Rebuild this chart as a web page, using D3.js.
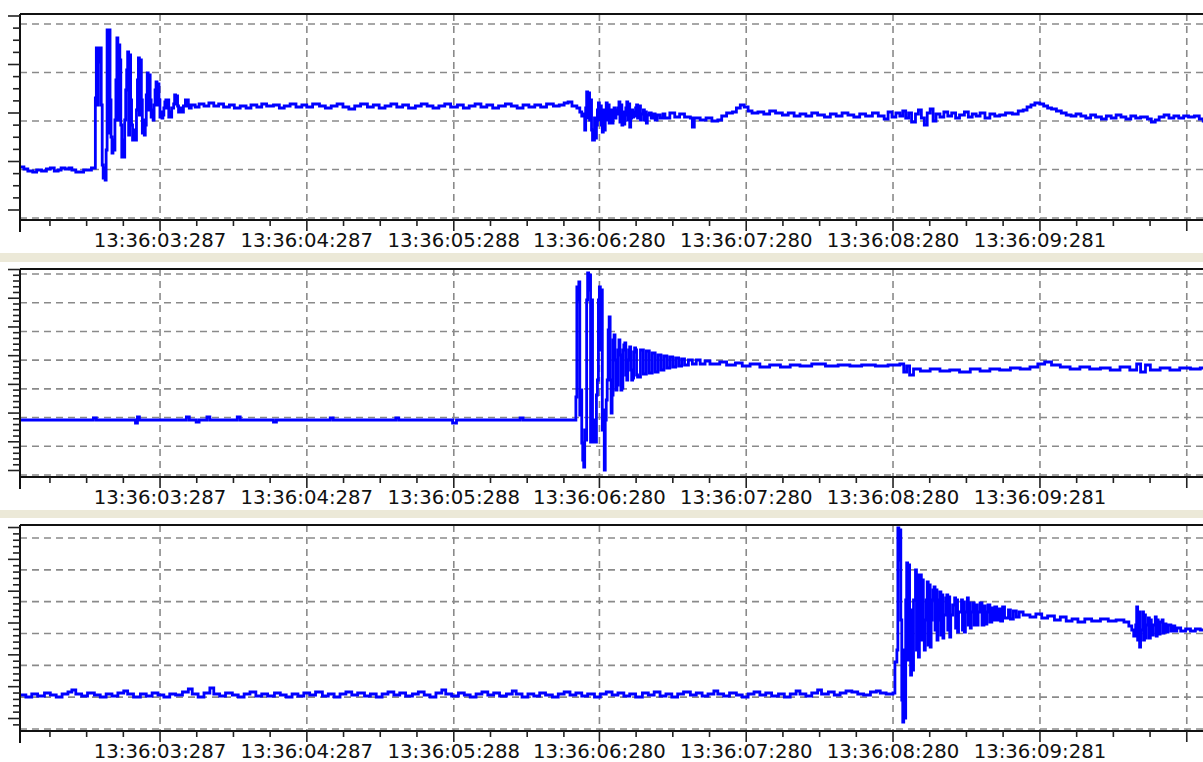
<!DOCTYPE html>
<html>
<head>
<meta charset="utf-8">
<script src="https://cdn.jsdelivr.net/npm/d3@7"></script>
<style>
  html, body { margin: 0; padding: 0; background: #fff; }
  svg { display: block; }
</style>
</head>
<body>
<svg id="chart" width="1203" height="762"></svg>
<script>
// Recorder channels, 150 samples per second, first sample at 13:36:02.333.
// Each entry is [sample index, amplitude]; the trace holds a value until the next entry.
const sampleRate = 150;
const startSecond = 2.333; // seconds after 13:36:00

const channel1 = [
  [0,51],[4,49],[8,47],[13,46],[17,48],[22,47],[27,49],[31,50],[35,47],[39,48],[42,50],[46,49],[50,50],[53,48],[57,46],[61,46],[65,48],[69,48],[73,50],
  [77,120],[78,170],[79,113],[80,170],[81,156],[82,170],[83,113],[84,53],[85,40],[86,50],[87,38],[88,68],[89,188],[90,85],[91,188],[92,118],[93,81],[94,65],[95,78],[96,68],[97,98],[98,138],[99,180],[100,98],[101,173],[102,158],[103,93],[104,61],[105,78],[106,61],[107,98],[108,128],[109,148],[110,166],[111,83],[112,163],[113,118],[114,93],[115,78],[116,88],[118,78],[119,108],[120,138],[121,160],[122,103],[123,158],[124,118],[125,85],[126,98],[127,83],[128,93],[129,123],[130,145],[131,108],[132,143],[133,118],[134,101],[135,108],[136,98],[137,113],[138,128],[139,136],[140,113],[141,134],[142,118],[143,101],[144,106],[145,100],[146,103],[147,110],[148,116],[149,118],[150,110],[151,118],[152,101],[153,106],[154,101],[155,110],[157,114],[158,123],[159,114],[160,122],[161,112],[162,106],[163,110],[165,106],[167,112],[169,118],[170,112],[171,118],[172,113],[173,110],[175,113],
  [179,111],[183,114],[188,112],[193,115],[198,112],[203,114],[208,111],[214,113],[219,110],[225,112],[231,110],[236,113],[242,111],[247,114],[252,112],[259,113],[265,110],[270,112],[276,114],[282,111],[288,113],[293,111],[299,114],[306,112],[312,110],[318,112],[324,114],[330,111],[336,109],[342,112],[348,114],[355,111],[361,113],[367,110],[373,112],[379,114],[385,111],[391,113],[397,110],[404,112],[410,114],[416,112],[422,110],[428,112],[434,114],[440,111],[447,113],[453,110],[459,112],[465,114],[471,111],[477,113],[483,110],[489,112],[496,114],[502,112],[508,110],[514,113],[520,111],[526,113],[532,111],[538,114],[545,112],[551,113],[556,115],[560,116],[564,112],[569,110],
  [572,106],[574,102],[576,104],[577,88],[578,110],[579,126],[580,100],[581,125],[582,98],[583,118],[584,88],[585,78],[587,100],[588,80],[589,93],[590,108],[591,115],[592,98],[593,112],[594,93],[595,86],[596,108],[597,88],[598,103],[599,115],[600,98],[601,113],[602,95],[603,103],[604,108],[605,95],[606,106],[607,110],[608,100],[609,108],[610,104],[611,110],[612,116],[613,96],[614,113],[615,93],[616,106],[617,94],[618,103],[619,110],[620,116],[621,98],[622,114],[623,91],[624,100],[625,108],[626,101],[627,106],[628,102],[629,110],[630,113],[631,100],[632,112],[634,98],[635,104],[637,108],[638,98],[639,106],[640,95],[641,103],[643,105],[645,100],[647,104],[649,98],[651,103],[654,100],[657,104],
  [659,100],[664,105],[669,101],[674,104],[679,101],[685,100],[687,91],[689,100],[695,98],[701,100],[707,97],[713,98],[717,102],[722,105],[728,106],[732,110],[736,113],[740,111],[744,107],[748,105],[754,106],[760,104],[766,107],[772,105],[779,103],
  [785,105],[791,102],[797,104],[803,102],[809,105],[815,103],[822,101],[828,104],[834,102],[840,105],[846,103],[852,101],[858,104],[864,102],[871,105],[877,102],[883,99],[887,106],[891,101],[895,105],[899,102],[902,107],[905,100],[908,105],[911,96],[915,104],[918,108],[921,100],[924,93],[927,105],[930,109],[933,97],[936,104],[940,101],[944,106],[948,102],[952,105],[956,100],[960,103],[965,106],[969,101],[973,104],[977,102],[981,105],[986,100],[991,104],[996,102],[1001,103],[1007,105],[1014,104],[1020,107],[1025,108],[1029,111],[1033,113],[1037,115],[1042,114],[1046,112],[1050,110],[1054,109],[1059,107],[1064,105],[1069,103],[1074,102],[1079,104],[1084,102],[1089,100],[1094,103],[1099,101],[1105,99],[1110,102],[1115,100],[1120,103],[1125,101],[1130,99],[1135,102],[1140,100],[1145,101],[1152,99],[1156,96],[1160,98],[1164,101],[1169,103],[1174,100],[1179,102],[1184,100],[1189,102],[1194,101],[1200,102],[1205,99],[1209,97],[1216,98]
];

const channel2 = [
  [0,55],[75,57],[78,55],[118,52],[120,58],[122,55],[170,58],[173,55],[180,53],[183,55],[191,58],[194,55],[222,58],[225,55],[259,53],[262,55],[317,57],[320,55],[384,57],[387,55],[442,52],[446,55],[511,57],[514,55],
  [568,78],[569,188],[570,175],[571,193],[572,60],[573,85],[574,32],[575,15],[576,8],[577,45],[578,35],[579,175],[580,202],[581,185],[582,200],[583,33],[584,175],[585,33],[587,55],[588,33],[589,80],[590,95],[591,175],[592,188],[593,125],[594,185],[595,45],[596,65],[597,5],[598,55],[599,75],[600,95],[601,145],[602,158],[603,95],[604,62],[605,80],[606,135],[607,140],[608,115],[609,85],[610,90],[611,125],[612,135],[613,120],[614,85],[615,87],[616,125],[617,130],[618,132],[619,100],[620,95],[621,115],[622,125],[623,128],[624,105],[625,95],[626,97],[627,123],[628,127],[629,125],[630,100],[631,98],
  [634,125],[637,101],[640,124],[643,102],[646,122],[649,103],[652,120],[655,105],[658,119],[661,107],[664,118],[667,108],[670,117],[673,109],[676,116],[679,110],[683,115],[687,111],[691,115],[695,111],[700,114],[705,111],
  [715,113],[722,110],[731,112],[738,109],[746,111],[756,108],[766,110],[777,108],[787,110],[797,109],[809,111],[823,109],[836,110],[848,109],[860,110],[874,109],[887,110],[899,111],
  [903,103],[906,109],[909,100],[913,106],[920,104],[930,106],[940,104],[950,105],[960,103],[971,106],[981,104],[991,106],[1001,105],[1012,107],[1022,106],[1032,108],[1040,111],[1047,113],[1054,110],[1063,108],[1073,106],[1083,108],[1093,106],[1104,107],[1114,105],[1124,108],[1134,105],[1141,111],[1145,103],[1150,110],[1155,105],[1165,107],[1175,105],[1185,107],[1196,106],[1206,107],[1216,106]
];

const channel3 = [
  [0,34],[6,32],[12,35],[18,33],[25,36],[31,34],[37,32],[43,35],[49,37],[53,39],[57,35],[63,33],[69,36],[76,34],[82,32],[88,35],[94,33],[100,36],[106,38],[110,35],[116,32],[123,35],[129,33],[135,36],[141,34],[147,32],[153,35],[159,34],[166,37],[172,40],[176,35],[182,32],[188,36],[194,41],[198,35],[204,33],[210,36],[217,34],[223,32],[229,35],[235,37],[241,33],[247,35],[253,33],[260,36],[266,34],[272,32],[278,35],[284,33],
  [290,36],[296,34],[302,37],[309,33],[315,35],[321,32],[327,35],[333,37],[339,34],[345,36],[352,33],[358,35],[364,32],[370,35],[376,37],[382,34],[388,36],[394,33],[401,35],[407,37],[413,34],[419,32],[425,36],[431,39],[435,35],[441,33],[448,36],[454,34],[460,32],[466,35],[472,37],[478,34],[484,36],[490,33],[497,35],[503,38],[507,35],[513,32],[519,35],[525,33],[531,36],[537,34],[544,32],[550,35],[556,37],[562,34],[568,36],[574,33],[580,35],[587,32],
  [593,35],[599,37],[605,34],[611,36],[617,33],[623,35],[629,32],[636,36],[642,34],[648,37],[654,33],[660,35],[666,32],[672,35],[678,37],[685,34],[691,36],[697,33],[703,35],[709,38],[713,35],[719,33],[725,36],[732,34],[738,32],[744,35],[750,37],[756,34],[762,36],[768,33],[775,35],[781,32],[787,35],[793,38],[797,35],[803,33],[809,36],[815,39],[819,35],[826,37],[832,34],[838,36],[844,38],[850,37],[856,35],[862,34],[869,37],[875,38],[879,36],[885,35],[892,36],
  [894,67],[896,79],[897,201],[898,169],[899,199],[900,109],[901,29],[902,7],[903,79],[904,11],[905,129],[906,166],[907,69],[908,164],[909,89],[910,54],[911,119],[912,59],[913,129],[915,159],[916,79],[917,154],[918,72],[919,119],[920,154],[921,89],[922,149],[923,99],[924,79],[925,109],[926,129],[927,147],[928,84],[929,144],[930,82],[931,109],[932,129],[933,139],[934,142],[935,99],[936,139],[937,89],[938,109],[939,129],[940,137],[941,94],[942,134],[943,91],[944,114],[946,131],[947,134],[948,99],[949,132],[950,92],[951,114],[953,124],[955,131],[956,101],[957,129],[958,97],[959,117],
  [962,129],[963,99],[964,127],[965,97],[966,117],[968,131],[969,104],[970,126],[971,101],[972,117],[974,126],[975,104],[976,124],[978,104],[979,117],[981,126],[983,104],[985,123],[986,105],[988,117],[989,124],[991,107],[993,121],[995,109],[996,122],[998,109],[1000,120],[1002,108],[1004,122],[1006,111],[1010,119],[1012,110],[1015,118],[1018,112],[1021,117],
  [1025,114],[1032,112],[1038,115],[1044,111],[1050,113],[1057,109],[1063,112],[1069,108],[1075,110],[1081,107],[1088,110],[1095,108],[1104,110],[1112,108],[1120,109],[1128,107],
  [1133,103],[1136,99],[1138,93],[1140,104],[1141,122],[1142,89],[1143,117],[1144,82],[1145,99],[1147,117],[1148,89],[1149,114],[1150,91],[1151,104],[1153,111],[1154,91],[1155,109],[1156,94],[1158,104],[1160,112],[1161,93],[1162,109],[1163,95],[1165,107],[1167,109],[1168,96],[1169,105],[1171,97],[1173,104],[1176,98],[1178,103],[1180,98],[1182,101],[1186,98],[1191,100],[1196,98],[1201,100],[1206,99],[1216,98]
];

// Time gridlines (seconds after 13:36:00) and their labels
const tickSeconds = [3.287, 4.287, 5.288, 6.280, 7.280, 8.280, 9.281, 10.281];
const tickLabels = ["13:36:03:287", "13:36:04:287", "13:36:05:288", "13:36:06:280",
                    "13:36:07:280", "13:36:08:280", "13:36:09:281"];

// Amplitude gridlines for each channel
const grid1 = [0, 48.5, 97, 145.5, 194];
const grid2 = [0, 28.71, 57.43, 86.14, 114.86, 143.57, 172.29, 201];
const grid3 = [0, 31.83, 63.67, 95.5, 127.33, 159.17, 191];

// ---- layout -------------------------------------------------------------
const W = 1203, H = 762;
const left = 20, right = 1210;
const endSecond = startSecond + (right - left) / 146.8;

const panels = [
  { data: channel1, grid: grid1, top: 14,  axis: 220, yLow: 218, yHigh: 24,
    majorStart: 8,    minorStep: 12.125, minorPerMajor: 4 },
  { data: channel2, grid: grid2, top: 269, axis: 477, yLow: 475, yHigh: 274,
    majorStart: 4.5,  minorStep: 5.742,  minorPerMajor: 5 },
  { data: channel3, grid: grid3, top: 525, axis: 731, yLow: 729, yHigh: 538,
    majorStart: 10.5, minorStep: 6.366,  minorPerMajor: 5 }
];
const bands = [[253, 262], [510, 518]];

const svg = d3.select("#chart");
svg.append("rect").attr("width", W).attr("height", H).attr("fill", "#fff");

const x = d3.scaleLinear().domain([startSecond, endSecond]).range([left, right]);

// minor time ticks every quarter second around each gridline
const minorSeconds = [];
tickSeconds.forEach((t, i) => {
  for (let j = 1; j <= 3; j++) minorSeconds.push(t + j * 0.25);
  if (i === 0) for (let j = 1; j <= 4; j++) minorSeconds.push(t - j * 0.25);
});

const gridColor = "#8a8a8a";
const dash = "7,5";

panels.forEach((p, pi) => {
  const gmax = p.grid[p.grid.length - 1];
  const y = d3.scaleLinear().domain([0, gmax]).range([p.yLow, p.yHigh]);
  const g = svg.append("g");

  // horizontal dashed gridlines
  g.selectAll("line.hgrid").data(p.grid).join("line")
    .attr("x1", left).attr("x2", right)
    .attr("y1", d => y(d)).attr("y2", d => y(d))
    .attr("stroke", gridColor).attr("stroke-width", 1.6)
    .attr("stroke-dasharray", dash);

  // vertical dashed gridlines
  g.selectAll("line.vgrid").data(tickSeconds).join("line")
    .attr("x1", d => x(d)).attr("x2", d => x(d))
    .attr("y1", p.top).attr("y2", p.axis)
    .attr("stroke", gridColor).attr("stroke-width", 1.6)
    .attr("stroke-dasharray", dash);

  // trace
  const clipId = "clip" + pi;
  svg.append("clipPath").attr("id", clipId).append("rect")
    .attr("x", left).attr("y", p.top).attr("width", right - left).attr("height", p.axis - p.top);

  const line = d3.line()
    .x(d => x(startSecond + d[0] / sampleRate))
    .y(d => y(d[1]))
    .curve(d3.curveStepAfter);

  g.append("path").datum(p.data)
    .attr("clip-path", `url(#${clipId})`)
    .attr("d", line)
    .attr("fill", "none")
    .attr("stroke", "#0000ff")
    .attr("stroke-width", 2.8)
    .attr("stroke-linejoin", "miter");

  // frame: top border, left border, bottom axis
  g.append("line").attr("x1", left).attr("x2", right).attr("y1", p.top).attr("y2", p.top)
    .attr("stroke", "#111").attr("stroke-width", 2);
  g.append("line").attr("x1", left).attr("x2", left).attr("y1", p.top).attr("y2", p.axis + 12)
    .attr("stroke", "#111").attr("stroke-width", 2);
  g.append("line").attr("x1", left).attr("x2", right).attr("y1", p.axis).attr("y2", p.axis)
    .attr("stroke", "#111").attr("stroke-width", 2);

  // left amplitude ticks
  const yTicks = [];
  for (let i = -10; i < 200; i++) {
    const v = p.majorStart + i * p.minorStep;
    const py = y(v);
    if (py < p.top - 0.5 || py > p.axis - 2) continue;
    yTicks.push({ v, major: ((i % p.minorPerMajor) + p.minorPerMajor) % p.minorPerMajor === 0 });
  }
  g.selectAll("line.ytick").data(yTicks).join("line")
    .attr("x1", d => d.major ? left - 12 : left - 7).attr("x2", left)
    .attr("y1", d => y(d.v)).attr("y2", d => y(d.v))
    .attr("stroke", "#222").attr("stroke-width", 1.6);

  // bottom time ticks
  g.selectAll("line.xminor").data(minorSeconds.filter(t => x(t) > left + 2 && x(t) < W)).join("line")
    .attr("x1", d => x(d)).attr("x2", d => x(d))
    .attr("y1", p.axis).attr("y2", p.axis + 6)
    .attr("stroke", "#222").attr("stroke-width", 1.6);
  g.selectAll("line.xmajor").data(tickSeconds).join("line")
    .attr("x1", d => x(d)).attr("x2", d => x(d))
    .attr("y1", p.axis).attr("y2", p.axis + 11)
    .attr("stroke", "#222").attr("stroke-width", 1.6);

  // time labels
  g.selectAll("text.xlabel").data(tickLabels).join("text")
    .attr("x", (d, i) => x(tickSeconds[i]))
    .attr("y", p.axis + 27)
    .attr("text-anchor", "middle")
    .attr("font-family", "'DejaVu Sans', Verdana, sans-serif")
    .attr("font-size", "19.7px")
    .attr("fill", "#111")
    .text(d => d);
});

// separator bands between the channels
svg.selectAll("rect.band").data(bands).join("rect")
  .attr("x", 0).attr("width", W)
  .attr("y", d => d[0]).attr("height", d => d[1] - d[0])
  .attr("fill", "#ece9d8");
</script>
</body>
</html>
